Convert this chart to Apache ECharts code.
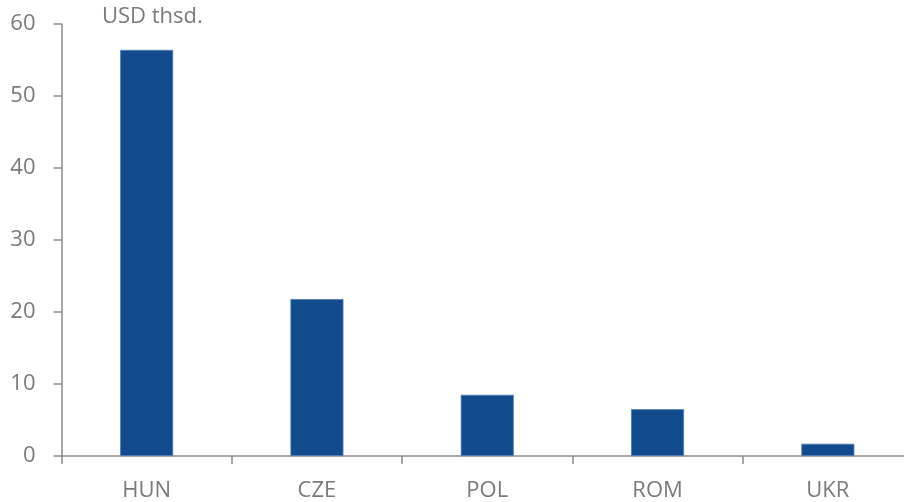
<!DOCTYPE html>
<html>
<head>
<meta charset="utf-8">
<script src="https://cdn.jsdelivr.net/npm/echarts@6/dist/echarts.min.js"></script>
<style>
  html, body { margin: 0; padding: 0; overflow: hidden; background: #fff; }
  #chart { width: 920px; height: 502px; }
</style>
</head>
<body>
<div id="chart"></div>
<script>
// data
var countries = ['HUN', 'CZE', 'POL', 'ROM', 'UKR'];
var values = [56.4, 21.8, 8.5, 6.5, 1.7];
var unitLabel = 'USD thsd.';

var grey = '#7a7a7a';
var axisGrey = '#8c8c8c';

var chart = echarts.init(document.getElementById('chart'));
chart.setOption({
  animation: false,
  grid: { left: 61.5, right: 7, top: 24, bottom: 46 },
  graphic: [{
    type: 'text',
    left: 102,
    top: 6,
    style: { text: unitLabel, font: '22px "Open Sans"', fill: grey }
  }],
  xAxis: {
    type: 'category',
    data: countries,
    axisLine: { lineStyle: { color: axisGrey, width: 1.5 } },
    axisTick: { show: true, length: 8, lineStyle: { color: axisGrey, width: 1.5 } },
    axisLabel: { color: grey, fontSize: 22, fontFamily: 'Open Sans', margin: 24 }
  },
  yAxis: {
    type: 'value',
    min: 0,
    max: 60,
    interval: 10,
    splitLine: { show: false },
    axisLine: { show: true, lineStyle: { color: axisGrey, width: 1.5 } },
    axisTick: { show: true, length: 8, lineStyle: { color: axisGrey, width: 1.5 } },
    axisLabel: { color: grey, fontSize: 22, fontFamily: 'Open Sans', margin: 26 }
  },
  series: [{
    type: 'bar',
    data: values,
    barWidth: 53,
    itemStyle: { color: '#114b8e', borderColor: '#4f7bb0', borderWidth: 0.8 }
  }]
});
</script>
</body>
</html>
